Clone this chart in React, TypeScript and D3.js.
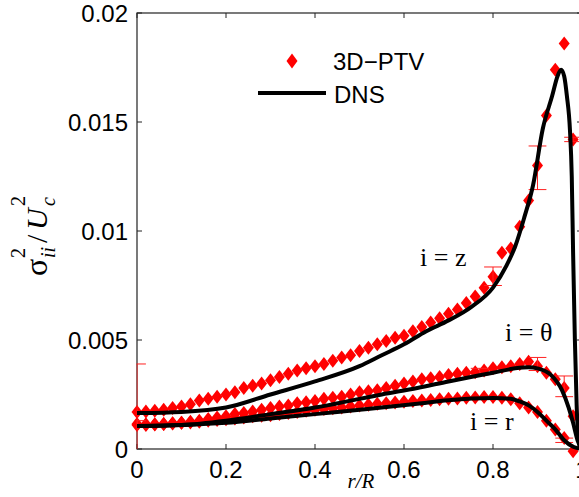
import React from "react";
import * as d3 from "d3";

const W = 579;
const H = 497;

// Measured radial positions r/R of 3D-PTV samples
const rPTV = [
  0, 0.02, 0.04, 0.06, 0.08, 0.1, 0.12, 0.14, 0.16, 0.18, 0.2, 0.22, 0.24, 0.26, 0.28, 0.3, 0.32, 0.34, 0.36, 0.38,
  0.4, 0.42, 0.44, 0.46, 0.48, 0.5, 0.52, 0.54, 0.56, 0.58, 0.6, 0.62, 0.64, 0.66, 0.68, 0.7, 0.72, 0.74, 0.76, 0.78,
  0.8, 0.82, 0.84, 0.86, 0.88, 0.9, 0.92, 0.94, 0.96, 0.98,
];
const zPTV = [
  0.0017, 0.00172, 0.00175, 0.0018, 0.00188, 0.00195, 0.00205, 0.00222, 0.0023, 0.0024, 0.0025, 0.0026, 0.0028, 0.0029,
  0.003, 0.00315, 0.0033, 0.00345, 0.0036, 0.0037, 0.0038, 0.0039, 0.00405, 0.0042, 0.0043, 0.0045, 0.00465, 0.0048,
  0.00495, 0.0051, 0.0052, 0.0054, 0.0056, 0.0058, 0.006, 0.0062, 0.0064, 0.0067, 0.007, 0.0074, 0.0079, 0.009, 0.0092,
  0.0102, 0.0114, 0.013, 0.0153, 0.0174, 0.0186, 0.0142,
];
const thPTV = [
  0.0011, 0.0011, 0.00112, 0.00115, 0.00118, 0.0012, 0.00125, 0.0013, 0.00138, 0.00145, 0.0015, 0.0016, 0.00165,
  0.00172, 0.0018, 0.00188, 0.00195, 0.002, 0.0021, 0.00215, 0.0022, 0.0023, 0.00235, 0.0024, 0.0025, 0.0026, 0.00265,
  0.0027, 0.0028, 0.0029, 0.003, 0.0031, 0.0032, 0.00325, 0.0033, 0.0034, 0.00345, 0.0035, 0.00352, 0.0036, 0.0037,
  0.00375, 0.0038, 0.0039, 0.004, 0.0038, 0.0035, 0.0032, 0.0028, 0.0015,
];
const rrPTV = [
  0.00115, 0.00113, 0.00113, 0.00115, 0.00117, 0.0012, 0.00122, 0.00125, 0.0013, 0.00133, 0.00137, 0.0014, 0.00145,
  0.0015, 0.00153, 0.00155, 0.0016, 0.00165, 0.0017, 0.00175, 0.0018, 0.00183, 0.00187, 0.0019, 0.00195, 0.002,
  0.00203, 0.00207, 0.0021, 0.00213, 0.00217, 0.0022, 0.00222, 0.00225, 0.00228, 0.0023, 0.00232, 0.00235, 0.00236,
  0.00238, 0.00238, 0.00235, 0.00228, 0.0021, 0.0019, 0.0017, 0.0013, 0.0009, 0.0005, -0.0001,
];

// DNS profiles
const rDNSz = [
  0, 0.1, 0.2, 0.3, 0.4, 0.5, 0.55, 0.6, 0.65, 0.7, 0.75, 0.8, 0.83, 0.85, 0.87, 0.89, 0.912, 0.933, 0.945, 0.953,
  0.96, 0.966, 0.973, 0.977, 0.98, 0.984, 0.988, 0.993, 0.997,
];
const zDNS = [
  0.00165, 0.0017, 0.0019, 0.0025, 0.0031, 0.0038, 0.0043, 0.0048, 0.0054, 0.0059, 0.0065, 0.0074, 0.0084, 0.0093,
  0.0106, 0.0121, 0.0147, 0.0162, 0.0171, 0.0174, 0.0171, 0.0162, 0.0146, 0.0125, 0.009, 0.005, 0.002, 0.0003, 0,
];
const rDNSth = [0, 0.1, 0.2, 0.3, 0.4, 0.5, 0.55, 0.63, 0.7, 0.8, 0.85, 0.88, 0.9, 0.93, 0.955, 0.97, 0.98, 0.99, 1.0];
const thDNS = [
  0.00105, 0.0011, 0.0013, 0.0016, 0.0019, 0.0023, 0.0025, 0.0028, 0.0031, 0.0035, 0.0037, 0.00375, 0.0037, 0.0034,
  0.0027, 0.0019, 0.0012, 0.0004, 0,
];
const rDNSr = [0, 0.1, 0.2, 0.3, 0.4, 0.5, 0.55, 0.63, 0.7, 0.8, 0.84, 0.86, 0.88, 0.9, 0.92, 0.94, 0.96, 0.98, 1.0];
const rDNS = [
  0.00105, 0.0011, 0.0012, 0.0014, 0.0016, 0.0018, 0.0019, 0.00208, 0.00224, 0.00234, 0.0023, 0.00218, 0.002, 0.0017,
  0.0013, 0.0009, 0.0004, 0.0001, 0,
];

// Error bars (r/R, low, high)
const errR = [0, 0, 0.8, 0.9, 0.98, 0.77, 0.9, 0.96, 0.96];
const errLo = [-0.0005, 0.001, 0.0075, 0.0119, 0.0141, 0.0034, 0.0036, 0.0024, 0.0003];
const errHi = [0.0039, 0.0013, 0.00835, 0.0139, 0.0143, 0.0037, 0.0042, 0.00335, 0.0005];

const xTicks = [0, 0.2, 0.4, 0.6, 0.8, 1];
const xTickLabels = ["0", "0.2", "0.4", "0.6", "0.8", "1"];
const yTicks = [0, 0.005, 0.01, 0.015, 0.02];
const yTickLabels = ["0", "0.005", "0.01", "0.015", "0.02"];

const L = 137, R = 582, T = 13, B = 449;

export default function App() {
  const x = d3.scaleLinear().domain([0, 1]).range([L, R]);
  const y = d3.scaleLinear().domain([0, 0.02]).range([B, T]);
  const line = d3
    .line<[number, number]>()
    .x((d) => x(d[0]))
    .y((d) => y(d[1]))
    .curve(d3.curveMonotoneX);
  const zip = (a: number[], b: number[]) => a.map((v, i) => [v, b[i]] as [number, number]);
  const diamond = (cx: number, cy: number, hw = 5.5, hh = 7) =>
    `M${cx},${cy - hh}L${cx + hw},${cy}L${cx},${cy + hh}L${cx - hw},${cy}Z`;
  const capHalf = x(0.02) - x(0);
  const sans = "'Liberation Sans', Arial, sans-serif";
  const serif = "'Liberation Serif', 'Times New Roman', serif";

  const markers = [zPTV, thPTV, rrPTV];

  return (
    <svg width={W} height={H} style={{ position: "absolute", left: 0, top: 0, background: "#fff" }}>
      <defs>
        <clipPath id="plotclip">
          <rect x={L - 0.5} y={T} width={R - L + 0.5} height={B - T} />
        </clipPath>
      </defs>
      <rect x={0} y={0} width={W} height={H} fill="#fff" />
      {/* axes box */}
      <rect x={L} y={T} width={R - L} height={B - T} fill="none" stroke="#222" strokeWidth={1.2} />
      {xTicks.map((t, i) => (
        <g key={"xt" + i}>
          <line x1={x(t)} x2={x(t)} y1={B} y2={B - 5} stroke="#222" strokeWidth={1} />
          <line x1={x(t)} x2={x(t)} y1={T} y2={T + 5} stroke="#222" strokeWidth={1} />
          <text x={x(t)} y={478} textAnchor="middle" fontFamily={sans} fontSize={24} fill="#000">
            {xTickLabels[i]}
          </text>
        </g>
      ))}
      {yTicks.map((t, i) => (
        <g key={"yt" + i}>
          <line x1={L} x2={L + 5} y1={y(t)} y2={y(t)} stroke="#222" strokeWidth={1} />
          <line x1={R} x2={R - 5} y1={y(t)} y2={y(t)} stroke="#222" strokeWidth={1} />
          <text x={128} y={y(t) + 8.5} textAnchor="end" fontFamily={sans} fontSize={24} fill="#000">
            {yTickLabels[i]}
          </text>
        </g>
      ))}

      {/* PTV markers */}
      {markers.map((ser, si) =>
        ser.map((v, i) => <path key={`m${si}-${i}`} d={diamond(x(rPTV[i]), y(v))} fill="#ff0000" />)
      )}

      {/* error bars */}
      <g clipPath="url(#plotclip)" stroke="#ff2020" strokeWidth={1} fill="none">
        {errR.map((r, i) => (
          <g key={"e" + i}>
            <line x1={x(r)} x2={x(r)} y1={y(errLo[i])} y2={y(errHi[i])} />
            <line x1={x(r) - capHalf} x2={x(r) + capHalf} y1={y(errLo[i])} y2={y(errLo[i])} />
            <line x1={x(r) - capHalf} x2={x(r) + capHalf} y1={y(errHi[i])} y2={y(errHi[i])} />
          </g>
        ))}
      </g>

      {/* DNS lines */}
      <g fill="none" stroke="#000" strokeWidth={4} strokeLinejoin="round">
        <path d={line(zip(rDNSz, zDNS)) || ""} />
        <path d={line(zip(rDNSth, thDNS)) || ""} />
        <path d={line(zip(rDNSr, rDNS)) || ""} />
      </g>

      {/* annotations */}
      <text x={420} y={266} fontFamily={serif} fontSize={26} fill="#000">i = z</text>
      <text x={505} y={341} fontFamily={serif} fontSize={26} fill="#000">i = θ</text>
      <text x={470} y={430} fontFamily={serif} fontSize={26} fill="#000">i = r</text>

      {/* legend */}
      <path d={diamond(292, 61, 5.5, 7.5)} fill="#ff0000" />
      <text x={333} y={70} fontFamily={sans} fontSize={24} fill="#000">3D−PTV</text>
      <line x1={258} x2={326} y1={93} y2={93} stroke="#000" strokeWidth={4} />
      <text x={334} y={103} fontFamily={sans} fontSize={24} fill="#000">DNS</text>

      {/* x label */}
      <text x={361} y={488} textAnchor="middle" fontFamily={serif} fontStyle="italic" fontSize={21} fill="#000">
        r/R
      </text>

      {/* y label */}
      <g transform="translate(47,276) rotate(-90)" fontFamily={serif} fill="#000">
        <text x={0} y={0} fontSize={32}>σ</text>
        <text x={18} y={-22} fontSize={20}>2</text>
        <text x={18} y={8} fontSize={20} fontStyle="italic">ii</text>
        <text x={33} y={0} fontSize={30}>/</text>
        <text x={46} y={0} fontSize={30} fontStyle="italic">U</text>
        <text x={70} y={-22} fontSize={20}>2</text>
        <text x={70} y={8} fontSize={20} fontStyle="italic">c</text>
      </g>
    </svg>
  );
}
